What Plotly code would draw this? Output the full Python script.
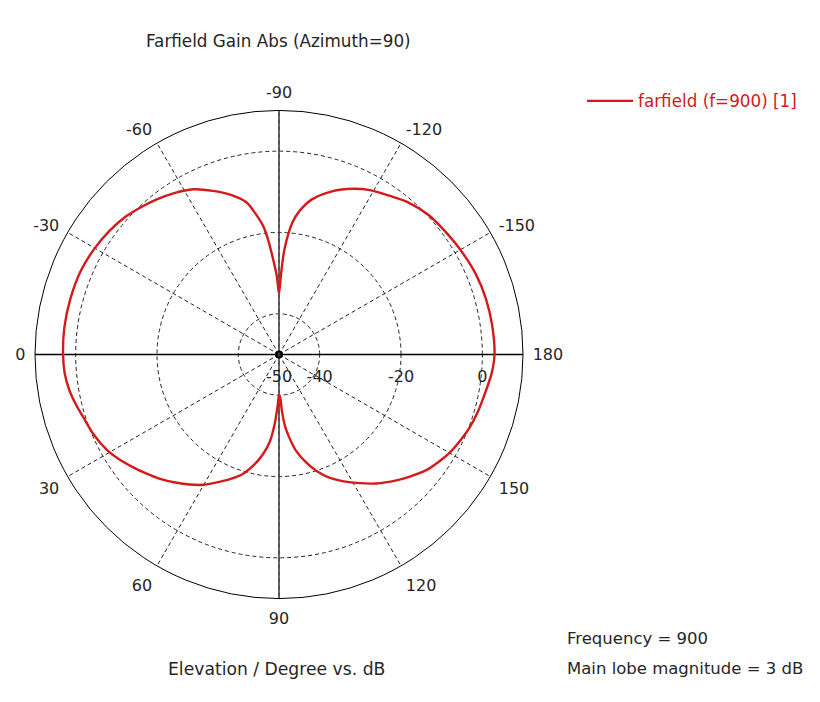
import plotly.graph_objects as go

# ---- data ----
elevation_deg = [-180, -172, -165, -158, -150, -143, -137, -130, -125, -119, -114, -108,
                 -102, -98, -95.8, -93, -91.5, -90, -88.5, -86.5, -84.5, -83, -80, -78,
                 -73, -68, -62.5, -57, -51.6, -47, -42, -36, -30, -23, -15, -7, 0,
                 5, 9.6, 14, 18, 23, 29, 33, 37.6, 42, 46, 51, 55.5, 60, 64, 68, 73.3,
                 77, 81, 84, 86.5, 88.5, 90, 91.5, 93, 95, 96.9, 100, 104, 108, 112,
                 117, 122, 127, 133, 137, 142, 146, 150, 155, 159, 164, 169, 175, 180]
gain_db = [3.0, 2.9, 2.7, 2.3, 1.5, 0.8, 0.3, -1.0, -2.4, -3.8, -5.4, -7.8,
           -11.0, -14.5, -17.4, -24.0, -30.0, -35.0, -31.0, -26.6, -21.5, -18.2, -14.2, -11.8,
           -8.9, -6.6, -4.2, -2.7, -1.4, -0.4, 0.7, 1.6, 2.3, 2.9, 3.1, 3.2, 3.1,
           2.9, 2.3, 1.4, 0.5, -0.3, -1.6, -2.9, -4.6, -6.2, -7.6, -9.5, -11.2, -13.0, -15.0, -16.8, -19.4,
           -22.0, -25.3, -28.5, -33.0, -37.5, -40.0, -39.5, -36.0, -32.0, -29.6, -26.0, -22.7, -19.8, -17.4,
           -15.0, -12.7, -10.3, -7.7, -6.0, -3.9, -2.7, -1.6, -0.6, 0.2, 0.9, 1.5, 2.5, 3.0]

angular_tickvals = [0, 30, 60, 90, 120, 150, 180, 210, 240, 270, 300, 330]
angular_ticktext = ["0", "30", "60", "90", "120", "150", "180", "-150", "-120", "-90", "-60", "-30"]
radial_tickvals = [-50, -40, -20, 0]
radial_ticktext = ["-50", "-40", "-20", "0"]
radial_range = [-50, 10]

series_name = "farfield (f=900) [1]"
title_text = "Farfield Gain Abs (Azimuth=90)"
xlabel_text = "Elevation / Degree vs. dB"
info_lines = ["Frequency = 900", "Main lobe magnitude = 3 dB"]

FONT = "DejaVu Sans"
TXT = "#262626"
RED = "#d41a1a"

fig = go.Figure()

# solid cross axes (0-180 and -90..90)
fig.add_trace(go.Scatterpolar(
    r=[radial_range[1], radial_range[0], radial_range[1]], theta=[0, 0, 180],
    mode="lines", line=dict(color="black", width=1.3), showlegend=False, hoverinfo="skip"))
fig.add_trace(go.Scatterpolar(
    r=[radial_range[1], radial_range[0], radial_range[1]], theta=[270, 270, 90],
    mode="lines", line=dict(color="#444", width=1.6), showlegend=False, hoverinfo="skip"))

# data curve
fig.add_trace(go.Scatterpolar(
    r=gain_db, theta=elevation_deg, mode="lines", name=series_name,
    line=dict(color=RED, width=2.4, shape="spline", smoothing=0.8)))

# center marker
fig.add_trace(go.Scatterpolar(
    r=[radial_range[0]], theta=[0], mode="markers",
    marker=dict(symbol="circle-open", size=6, color="black", line=dict(width=2)),
    showlegend=False, hoverinfo="skip"))

# page has an 8px body margin: lay the figure out in page pixels minus that offset
OFF = 8
W, H = 820 - OFF, 702 - OFF
cx, cy, R = 279 - OFF, 354.5 - OFF, 244


def px(x):
    return (x - OFF) / W


def py(y):
    return 1 - (y - OFF) / H


fig.update_layout(
    width=W, height=H,
    margin=dict(l=0, r=0, t=0, b=0),
    paper_bgcolor="white", plot_bgcolor="white",
    font=dict(family=FONT, size=16, color=TXT),
    polar=dict(
        domain=dict(x=[(cx - R) / W, (cx + R) / W], y=[1 - (cy + R) / H, 1 - (cy - R) / H]),
        bgcolor="white",
        angularaxis=dict(
            rotation=180, direction="counterclockwise",
            tickmode="array", tickvals=angular_tickvals, ticktext=angular_ticktext,
            showline=True, linecolor="black", linewidth=1,
            showgrid=True, gridcolor="#222", gridwidth=1, griddash="4px,3px",
            ticks="outside", ticklen=6, tickcolor="rgba(0,0,0,0)",
            tickfont=dict(family=FONT, size=16, color=TXT)),
        radialaxis=dict(
            range=radial_range, angle=0, tickangle=0,
            tickmode="array", tickvals=radial_tickvals, ticktext=radial_ticktext,
            showline=False, showgrid=True, gridcolor="#222", gridwidth=1, griddash="4px,3px",
            ticks="outside", ticklen=8, tickcolor="rgba(0,0,0,0)",
            tickfont=dict(family=FONT, size=16, color=TXT)),
    ),
    showlegend=True,
    legend=dict(x=px(582), y=py(101), xanchor="left", yanchor="middle", itemwidth=46,
                font=dict(family=FONT, size=16.8, color=RED), bgcolor="rgba(0,0,0,0)"),
    annotations=[
        dict(text=title_text, xref="paper", yref="paper", x=px(278), y=py(41),
             xanchor="center", yanchor="middle", showarrow=False,
             font=dict(family=FONT, size=16.8, color=TXT)),
        dict(text=xlabel_text, xref="paper", yref="paper", x=px(276), y=py(669),
             xanchor="center", yanchor="middle", showarrow=False,
             font=dict(family=FONT, size=17.2, color=TXT)),
        dict(text=info_lines[0], xref="paper", yref="paper", x=px(565), y=py(638),
             xanchor="left", yanchor="middle", showarrow=False,
             font=dict(family=FONT, size=16.5, color=TXT)),
        dict(text=info_lines[1], xref="paper", yref="paper", x=px(565), y=py(668),
             xanchor="left", yanchor="middle", showarrow=False,
             font=dict(family=FONT, size=16.5, color=TXT)),
    ],
)

fig.write_html("out.html")
